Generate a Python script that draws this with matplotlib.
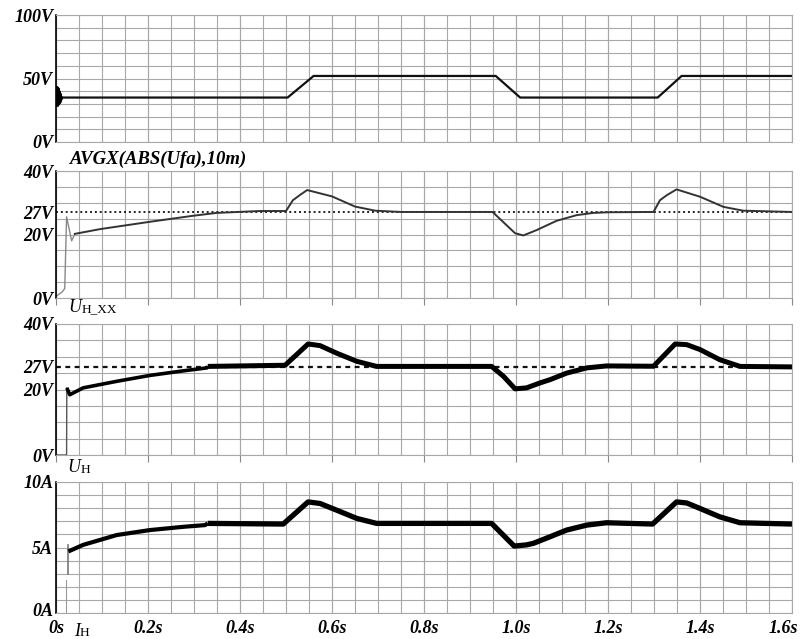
import numpy as np
import matplotlib.pyplot as plt
from matplotlib.transforms import ScaledTranslation

# time axis, seconds
t_end = 1.6

# trace 1: supply voltage setpoint
t_sup = [0, 0.5035, 0.56, 0.956, 1.009, 1.308, 1.36, 1.6]
u_sup = [35, 35, 52, 52, 35, 35, 52, 52]
t_burst = [0.001, 0.002, 0.003, 0.004, 0.005, 0.006, 0.007, 0.008, 0.009, 0.010, 0.011]
u_burst = [44, 28, 43, 29, 42, 30, 40, 31, 38, 33, 36]

# trace 2: AVGX(ABS(Ufa),10m)
t_avg = [0, 0.014, 0.019, 0.023, 0.034, 0.041, 0.096, 0.204, 0.298, 0.349, 0.443, 0.5,
         0.515, 0.53, 0.546, 0.6, 0.65, 0.694, 0.75, 0.949, 0.998, 1.016, 1.045, 1.088,
         1.132, 1.168, 1.2, 1.299, 1.313, 1.328, 1.349, 1.4, 1.451, 1.494, 1.6]
u_avg = [0.5, 2, 3, 25.6, 18, 20.2, 21.7, 24, 25.9, 26.8, 27.4, 27.4,
         30.8, 32.4, 34, 32, 28.8, 27.5, 27.1, 27.1, 20.4, 19.7, 21.4, 24.3,
         26.1, 26.8, 27, 27.1, 30.8, 32.4, 34.2, 31.9, 28.7, 27.5, 27.1]

# trace 3: U_H
t_uh = [0, 0.023, 0.0235, 0.030, 0.059, 0.132, 0.204, 0.277, 0.328, 0.33, 0.498, 0.548,
        0.574, 0.610, 0.654, 0.697, 0.947, 0.973, 0.998, 1.023, 1.052, 1.074, 1.110,
        1.154, 1.197, 1.299, 1.346, 1.371, 1.4, 1.443, 1.487, 1.6]
u_uh = [0, 0, 20.5, 18.4, 20.5, 22.5, 24.3, 25.7, 26.6, 27.05, 27.4, 33.9,
        33.4, 31.1, 28.6, 27.05, 27.05, 24, 20.2, 20.5, 22, 23, 25,
        26.6, 27.2, 27.1, 33.9, 33.7, 32.2, 29.1, 27.05, 26.9]

# trace 4: I_H
t_ih = [0.027, 0.059, 0.132, 0.204, 0.277, 0.324, 0.33, 0.494, 0.548, 0.574, 0.610,
        0.654, 0.697, 0.947, 0.996, 1.023, 1.038, 1.074, 1.110, 1.154, 1.197, 1.297,
        1.349, 1.371, 1.4, 1.443, 1.487, 1.6]
i_ih = [4.7, 5.2, 5.95, 6.33, 6.58, 6.71, 6.84, 6.79, 8.48, 8.36, 7.85,
        7.22, 6.84, 6.84, 5.11, 5.2, 5.32, 5.82, 6.33, 6.71, 6.89, 6.79,
        8.48, 8.4, 7.98, 7.34, 6.89, 6.79]

u_ref = 27
x_labels = ['0s', '0.2s', '0.4s', '0.6s', '0.8s', '1.0s', '1.2s', '1.4s', '1.6s']

W, H = 801, 639
lab_font = dict(family='Liberation Serif', weight='bold', style='italic', size=13)
gcol = '#a8a8a8'

fig = plt.figure(figsize=(W / 100, H / 100), dpi=100)


def panel(top, bot, ymax, ystep, yticks, ylabels, ticks_out=True):
    ax = fig.add_axes([56 / W, 1 - bot / H, 736 / W, (bot - top) / H])
    ax.set_xlim(0, t_end)
    ax.set_ylim(0, ymax)
    ax.set_xticks(np.arange(0, 1.61, 0.2))
    ax.set_xticks(np.arange(0, 1.61, 0.05), minor=True)
    ax.set_yticks(yticks)
    ax.set_yticklabels(ylabels, fontdict=lab_font)
    ax.set_yticks(np.arange(0, ymax + 0.01, ystep), minor=True)
    ax.yaxis.remove_overlapping_locs = False
    ax.xaxis.remove_overlapping_locs = False
    ax.grid(which='both', axis='x', color=gcol, lw=0.8)
    ax.grid(which='minor', axis='y', color=gcol, lw=0.8)
    ax.tick_params(axis='y', which='both', length=0, pad=2)
    ax.tick_params(axis='x', which='minor', length=0)
    ax.tick_params(axis='x', which='major', length=5 if ticks_out else 0,
                   color='#888888', width=0.8)
    ax.set_xticklabels([])
    for s in ['top', 'right', 'bottom']:
        ax.spines[s].set_color(gcol)
        ax.spines[s].set_linewidth(0.8)
    ax.spines['left'].set_color('black')
    ax.spines['left'].set_linewidth(1.2)
    ax.set_axisbelow(True)
    return ax


ax1 = panel(15, 142, 100, 10, [0, 50, 100], ['0V', '50V', '100V'], ticks_out=False)
ax1.plot(t_sup, u_sup, color='#111111', lw=1.6)
ax1.plot(t_burst, u_burst, color='black', lw=2.5, solid_joinstyle='miter',
         solid_capstyle='butt')

ax2 = panel(171, 298, 40, 5, [0, 20, 27, 40], ['0V', '20V', '27V', '40V'])
ax2.axhline(u_ref, color='#222222', lw=1.4, ls=(0, (1, 1.5)))
ax2.plot(t_avg[:6], u_avg[:6], color='#888888', lw=1.0)
ax2.plot(t_avg[5:], u_avg[5:], color='#333333', lw=1.4)

ax3 = panel(324, 455, 40, 5, [0, 20, 27, 40], ['0V', '20V', '27V', '40V'])
ax3.axhline(u_ref, color='#111111', lw=1.6, ls=(0, (2.2, 2)))
ax3.plot(t_uh[:3], u_uh[:3], color='#555555', lw=1.0)
ax3.plot(t_uh[2:10], u_uh[2:10], color='black', lw=2.6, solid_capstyle='butt')
ax3.plot(t_uh[9:], u_uh[9:], color='black', lw=3.6, solid_capstyle='butt')

ax4 = panel(482, 613, 10, 1, [0, 5, 10], ['0A', '5A', '10A'])
ax4.plot([0.021, 0.021], [0, 2.5], color='#999999', lw=0.8)
ax4.plot([0.025, 0.025], [3.0, 5.2], color='#777777', lw=1.2)
ax4.plot(t_ih[:7], i_ih[:7], color='black', lw=3.0, solid_capstyle='butt')
ax4.plot(t_ih[6:], i_ih[6:], color='black', lw=3.8, solid_capstyle='butt')
ax4.set_xticklabels(x_labels, fontdict=lab_font)
ax4.tick_params(axis='x', which='major', pad=5, length=0)
# nudge the end labels so they stay inside the figure
xt = ax4.get_xticklabels()
xt[-1].set_transform(xt[-1].get_transform() + ScaledTranslation(-9 / 100, 0, fig.dpi_scale_trans))
yt = ax4.get_yticklabels()
yt[0].set_transform(yt[0].get_transform() + ScaledTranslation(0, 3 / 100, fig.dpi_scale_trans))


def ftext(x, y, s, **kw):
    fig.text(x / W, 1 - y / H, s, va='center', **kw)


ftext(70, 159, 'AVGX(ABS(Ufa),10m)', **dict(lab_font, size=13.5))
ftext(68, 307, 'U', family='Liberation Serif', style='italic', size=13)
ftext(82, 309, 'H_XX', family='Liberation Serif', size=9.5)
ftext(67, 468, 'U', family='Liberation Serif', style='italic', size=13)
ftext(81, 470, 'H', family='Liberation Serif', size=9.5)
ftext(74, 631, 'I', family='Liberation Serif', style='italic', size=13)
ftext(80, 633, 'H', family='Liberation Serif', size=9.5)

fig.savefig('out.png', dpi=100)
